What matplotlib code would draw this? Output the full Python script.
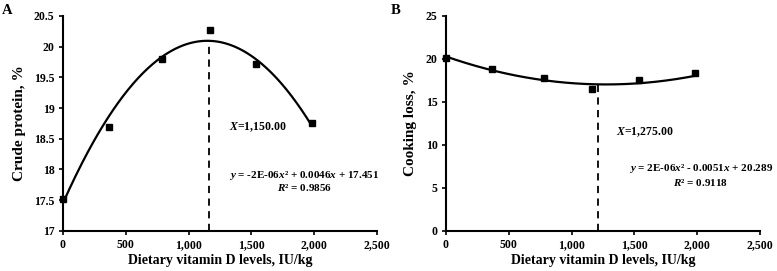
import numpy as np
import matplotlib
matplotlib.use("Agg")
import matplotlib.pyplot as plt

plt.rcParams['font.family'] = ['Liberation Serif', 'DejaVu Serif']
plt.rcParams['font.weight'] = 'bold'
plt.rcParams['mathtext.fontset'] = 'custom'
plt.rcParams['mathtext.rm'] = 'Liberation Serif:bold'
plt.rcParams['mathtext.it'] = 'Liberation Serif:italic:bold'
plt.rcParams['mathtext.bf'] = 'Liberation Serif:bold'

# vitamin D levels (IU/kg)
dose_a = [0, 370, 785, 1170, 1540, 1980]
protein = [17.52, 18.70, 19.80, 20.27, 19.71, 18.76]
dose_b = [0, 365, 780, 1165, 1535, 1980]
cooking_loss = [20.15, 18.88, 17.83, 16.47, 17.60, 18.37]

# quadratic fit coefficients as printed (a, b, c)
coef_a = [-2e-06, 0.0046, 17.451]
coef_b = [2e-06, -0.0051, 20.289]
vline_a = 1162
vline_b = 1210

x_ticks = [0, 500, 1000, 1500, 2000, 2500]
x_ticklabels = ['0', '500', '1,000', '1,500', '2,000', '2,500']

fig = plt.figure(figsize=(7.77, 2.71), dpi=100)
ax_a = fig.add_axes([0.081, 0.148, 0.404, 0.793])
ax_b = fig.add_axes([0.574, 0.148, 0.404, 0.793])


def draw_panel(ax, dose, vals, coef, vline, ylim, yticks, yticklabels, ylabel):
    xs = np.linspace(0, max(dose), 200)
    ax.plot(xs, np.polyval(coef, xs), color='black', lw=1.6, zorder=2)
    ax.plot(dose, vals, 's', color='black', ms=4.5, zorder=3, clip_on=False)
    ax.plot([vline, vline], [ylim[0], np.polyval(coef, vline)], color='black',
            lw=1.3, ls=(0, (4, 3)), zorder=1)
    ax.set_xlim(0, 2500)
    ax.set_ylim(*ylim)
    ax.set_xticks(x_ticks)
    ax.set_xticklabels(x_ticklabels)
    ax.set_yticks(yticks)
    ax.set_yticklabels(yticklabels)
    for s in ['top', 'right']:
        ax.spines[s].set_visible(False)
    for s in ['left', 'bottom']:
        ax.spines[s].set_linewidth(1.5)
    ax.tick_params(width=1.2, length=3, labelsize=8.5, pad=3)
    ax.set_xlabel('Dietary vitamin D levels, IU/kg', fontsize=10, fontweight='bold', labelpad=2)
    ax.set_ylabel(ylabel, fontsize=11, fontweight='bold', labelpad=6)


draw_panel(ax_a, dose_a, protein, coef_a, vline_a, (17, 20.5),
           [17, 17.5, 18, 18.5, 19, 19.5, 20, 20.5],
           ['17', '17.5', '18', '18.5', '19', '19.5', '20', '20.5'],
           'Crude protein, %')
draw_panel(ax_b, dose_b, cooking_loss, coef_b, vline_b, (0, 25),
           [0, 5, 10, 15, 20, 25], ['0', '5', '10', '15', '20', '25'],
           'Cooking loss, %')

ax_a.text(1550, 18.69, '$X$=1,150.00', fontsize=8.5, ha='center', va='center')
ax_a.text(1925, 17.91, '$y$ = -2E-06$x$² + 0.0046$x$ + 17.451', fontsize=8, ha='center', va='center')
ax_a.text(1925, 17.71, '$R$² = 0.9856', fontsize=8, ha='center', va='center')

ax_b.text(1584, 11.5, '$X$=1,275.00', fontsize=8.5, ha='center', va='center')
ax_b.text(2030, 7.2, '$y$ = 2E-06$x$² - 0.0051$x$ + 20.289', fontsize=8, ha='center', va='center')
ax_b.text(2030, 5.6, '$R$² = 0.9118', fontsize=8, ha='center', va='center')

fig.text(0.003, 0.985, 'A', fontsize=10.5, fontweight='bold', va='top')
fig.text(0.503, 0.985, 'B', fontsize=10.5, fontweight='bold', va='top')

fig.savefig('out.png', dpi=100)
